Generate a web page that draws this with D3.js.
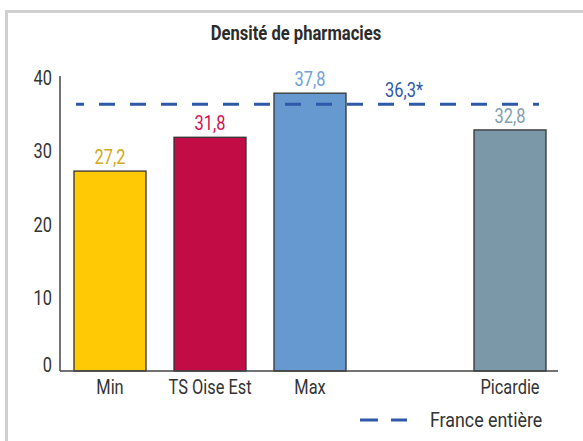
<!DOCTYPE html>
<html>
<head>
<meta charset="utf-8">
<script src="https://cdn.jsdelivr.net/npm/d3@7"></script>
<style>
  body { margin: 0; background: #fff; }
  text { font-family: Roboto, "Liberation Sans", sans-serif; }
</style>
</head>
<body>
<div id="chart"></div>
<script>
// data
var categories = ["Min", "TS Oise Est", "Max", "", "Picardie"];
var values = [27.2, 31.8, 37.8, null, 32.8];
var valueLabels = ["27,2", "31,8", "37,8", "", "32,8"];
var barColors = ["#FFC906", "#C20C45", "#6699CF", "none", "#7B98A8"];
var labelColors = ["#D4A820", "#CF1250", "#6FA0D8", "none", "#819EB0"];
var franceValue = 36.3;
var franceLabel = "36,3*";
var yTicks = [0, 10, 20, 30, 40];

var W = 583, H = 441;
var margin = { top: 77, right: 25, bottom: 70, left: 60 },
    width = W - margin.left - margin.right,
    height = H - margin.top - margin.bottom;

var FS = 20.5;      // font size
var SX = 0.8;       // horizontal squeeze to get a condensed look

var svg = d3.select("#chart")
    .append("svg")
    .attr("width", W)
    .attr("height", H);

// squeeze text horizontally around its anchor point
function condense(sel, sx) {
    sx = sx || SX;
    sel.each(function () {
        var t = d3.select(this);
        var x0 = +t.attr("x") || 0;
        t.attr("transform", "translate(" + (x0 * (1 - sx)) + ",0) scale(" + sx + ",1)");
    });
}

// outer frame (runs off the right and bottom edges)
svg.append("rect")
    .attr("x", 6.5).attr("y", 11.5)
    .attr("width", W + 20).attr("height", H + 20)
    .attr("fill", "none")
    .attr("stroke", "#cfcfcf")
    .attr("stroke-width", 3);

svg.append("text")
    .attr("x", 296).attr("y", 40)
    .attr("text-anchor", "middle")
    .attr("font-size", FS)
    .attr("font-weight", "bold")
    .attr("fill", "#2b2b2b")
    .text("Densité de pharmacies")
    .call(condense, 0.81);

var g = svg.append("g")
    .attr("transform", "translate(" + margin.left + "," + margin.top + ")");

// scales
var x = d3.scaleBand()
    .domain(d3.range(categories.length))
    .range([0, 500])
    .paddingInner(0.28)
    .paddingOuter(0.14);

var y = d3.scaleLinear()
    .domain([0, 40])
    .range([height, 0]);

// Y axis (line + labels, no ticks)
var yAxis = g.append("g")
    .call(d3.axisLeft(y).tickValues(yTicks).tickSize(0).tickPadding(8));
yAxis.select(".domain").attr("stroke", "#444").attr("stroke-width", 1.5)
    .attr("d", "M0," + height + "V-1");
yAxis.selectAll("text")
    .attr("font-size", FS)
    .attr("fill", "#333")
    .attr("font-family", null)
    .attr("dy", d => d === 0 ? "0em" : "0.36em")
    .call(condense);

// bars
g.selectAll("rect.bar")
    .data(values.map((v, i) => ({ v: v, i: i })).filter(d => d.v !== null))
    .enter()
    .append("rect")
    .attr("class", "bar")
    .attr("x", d => x(d.i))
    .attr("y", d => y(d.v))
    .attr("width", x.bandwidth())
    .attr("height", d => height - y(d.v))
    .attr("fill", d => barColors[d.i])
    .attr("stroke", "#333")
    .attr("stroke-width", 1.3);

// value labels
g.selectAll("text.val")
    .data(values.map((v, i) => ({ v: v, i: i })).filter(d => d.v !== null))
    .enter()
    .append("text")
    .attr("class", "val")
    .attr("x", d => x(d.i) + x.bandwidth() / 2)
    .attr("y", d => y(d.v) - 7)
    .attr("text-anchor", "middle")
    .attr("font-size", FS)
    .attr("fill", d => labelColors[d.i])
    .text(d => valueLabels[d.i])
    .call(condense);

// X axis
var xAxis = g.append("g")
    .attr("transform", "translate(0," + height + ")")
    .call(d3.axisBottom(x).tickFormat(i => categories[i]).tickSize(0).tickPadding(8));
xAxis.select(".domain").attr("stroke", "#444").attr("stroke-width", 1.5)
    .attr("d", "M0,0H498");
xAxis.selectAll("text")
    .attr("font-size", FS)
    .attr("fill", "#333")
    .attr("font-family", null)
    .call(condense);

// France entière dashed reference line
g.append("line")
    .attr("x1", 16).attr("x2", 479)
    .attr("y1", y(franceValue)).attr("y2", y(franceValue))
    .attr("stroke", "#2E58A8")
    .attr("stroke-width", 3)
    .attr("stroke-dasharray", "16,15")
    .attr("stroke-dashoffset", 8);

g.append("text")
    .attr("x", 344)
    .attr("y", y(franceValue) - 7)
    .attr("text-anchor", "middle")
    .attr("font-size", FS)
    .attr("fill", "#2E58A8")
    .text(franceLabel)
    .call(condense);

// legend
var legend = svg.append("g").attr("transform", "translate(360,420)");
legend.append("line")
    .attr("x1", 0).attr("x2", 47)
    .attr("stroke", "#2E58A8")
    .attr("stroke-width", 3)
    .attr("stroke-dasharray", "18,13");
legend.append("text")
    .attr("x", 70).attr("y", 0)
    .attr("dy", "0.36em")
    .attr("font-size", FS)
    .attr("fill", "#333")
    .text("France entière")
    .call(condense, 0.87);
</script>
</body>
</html>
